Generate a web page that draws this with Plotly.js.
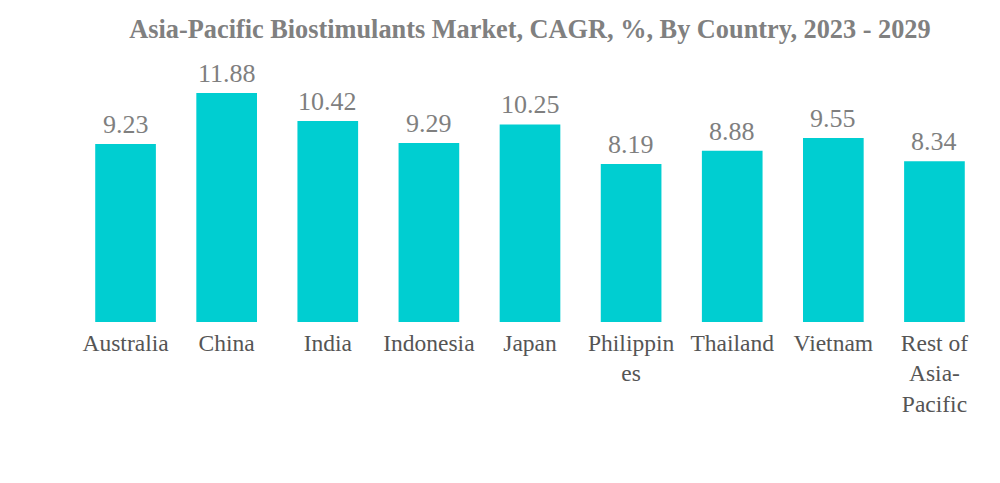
<!DOCTYPE html>
<html>
<head>
<meta charset="utf-8">
<script src="https://cdn.plot.ly/plotly-3.0.1.min.js"></script>
<style>html,body{margin:0;padding:0;background:#fff;}#chart{width:1000px;height:483px;}</style>
</head>
<body>
<div id="chart"></div>
<script>
var categories = ["Australia", "China", "India", "Indonesia", "Japan", "Philippines", "Thailand", "Vietnam", "Rest of Asia-Pacific"];
var tickLabels = ["Australia", "China", "India", "Indonesia", "Japan", "Philippin<br>es", "Thailand", "Vietnam", "Rest of<br>Asia-<br>Pacific"];
var cagr = [9.23, 11.88, 10.42, 9.29, 10.25, 8.19, 8.88, 9.55, 8.34];

var FONT = 'Liberation Serif, Times New Roman, serif';

var trace = {
  type: 'bar',
  x: categories,
  y: cagr,
  marker: {color: '#00CED1'},
  hoverinfo: 'none'
};

var annotations = categories.map(function(c, i){
  return {
    x: c, y: cagr[i], xref: 'x', yref: 'y',
    text: cagr[i].toFixed(2),
    showarrow: false,
    yanchor: 'bottom',
    yshift: 3,
    font: {family: FONT, size: 26, color: '#7f7f7f'}
  };
});

var layout = {
  width: 1000,
  height: 483,
  margin: {l: 75, r: 15, t: 60, b: 161},
  paper_bgcolor: '#ffffff',
  plot_bgcolor: '#ffffff',
  bargap: 0.4,
  showlegend: false,
  annotations: annotations,
  title: {
    text: '<b>Asia-Pacific Biostimulants Market, CAGR, %, By Country, 2023 - 2029</b>',
    font: {family: FONT, size: 26.3, color: '#808080'},
    x: 0.5, xref: 'paper', xanchor: 'center',
    y: 0.94, yref: 'container', yanchor: 'middle'
  },
  xaxis: {
    type: 'category',
    tickmode: 'array',
    tickvals: categories,
    ticktext: tickLabels,
    tickfont: {family: FONT, size: 23.5, color: '#555555'},
    ticklabelstandoff: 4,
    showline: false,
    showgrid: false,
    zeroline: false,
    ticks: ''
  },
  yaxis: {
    range: [0, 13.59],
    visible: false,
    showgrid: false,
    zeroline: false
  }
};

Plotly.newPlot('chart', [trace], layout, {displayModeBar: false, staticPlot: true});
</script>
</body>
</html>
